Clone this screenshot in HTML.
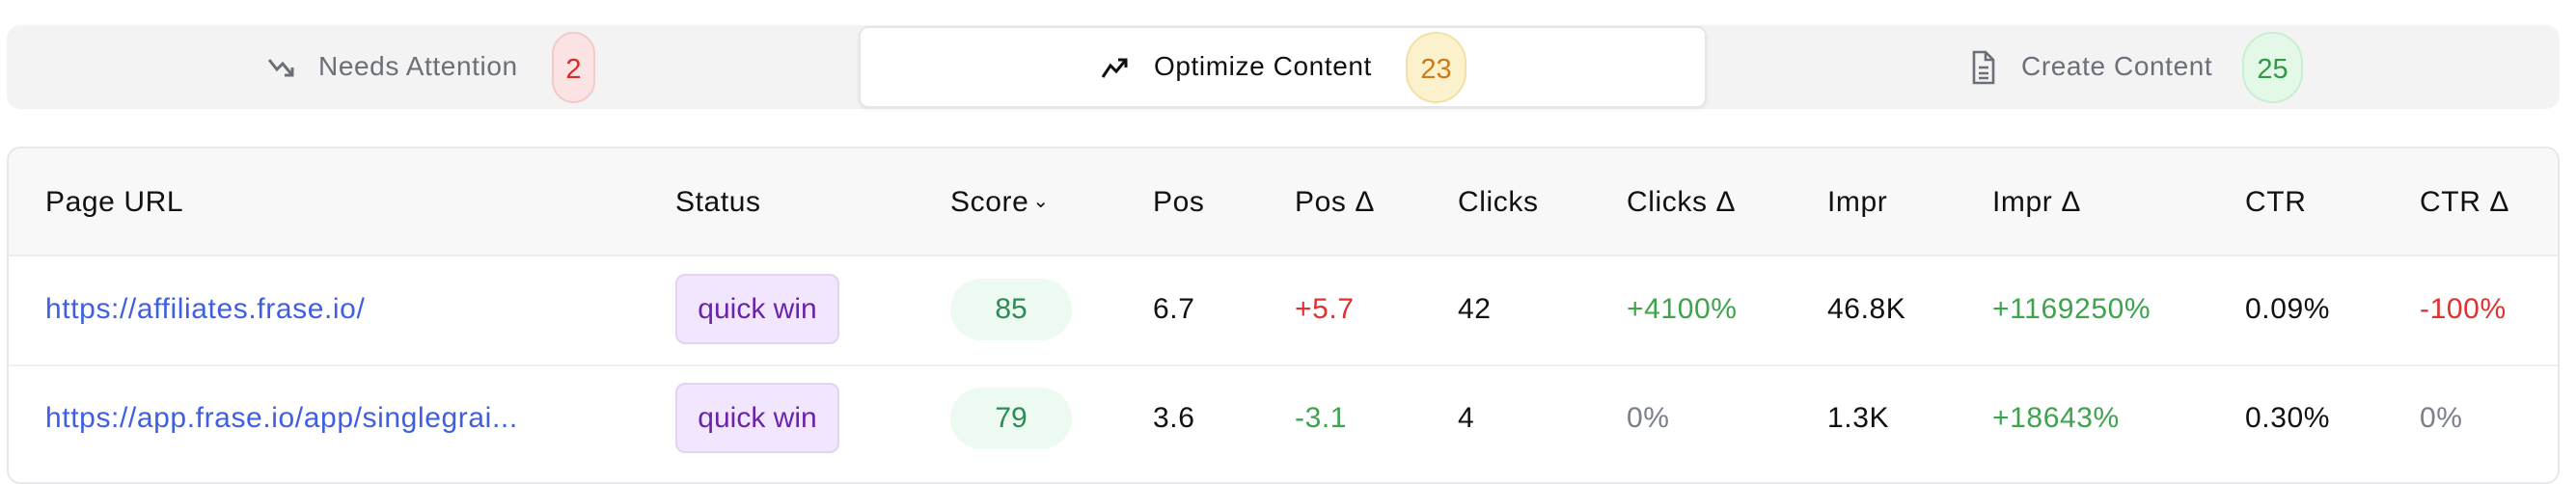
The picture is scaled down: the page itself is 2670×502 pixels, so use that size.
<!DOCTYPE html>
<html><head><meta charset="utf-8"><style>
*{margin:0;padding:0;box-sizing:border-box}
body{width:2670px;height:496px;background:#fff;font-family:"Liberation Sans",sans-serif;position:relative;overflow:hidden;color:#111}
.a{position:absolute;white-space:nowrap}
.bar{left:7px;top:26px;width:2646px;height:87px;background:#f3f3f3;border-radius:14px}
.act{left:890px;top:27px;width:879px;height:85px;background:#fff;border-radius:10px;border:2px solid #e6e6ea;box-shadow:0 2px 4px rgba(0,0,0,.06)}
.tt{font-size:28px;letter-spacing:0.6px;top:52px;line-height:34px}
.badge{top:33px;height:74px;border-radius:37px;font-size:29px;line-height:74px;text-align:center}
.tbl{left:7px;top:152px;width:2646px;height:350px;border:2px solid #e8e8ea;border-radius:14px;overflow:hidden}
.hd{position:absolute;left:0;top:0;width:100%;height:112px;background:#f8f8f8;border-bottom:2px solid #ececec}
.r1{position:absolute;left:0;top:112px;width:100%;height:114px;border-bottom:2px solid #efefef}
.h{font-size:30px;letter-spacing:0.6px;top:193px;line-height:34px;color:#111}
.c1{font-size:30px;letter-spacing:0.6px;top:304px;line-height:34px}
.c2{font-size:30px;letter-spacing:0.6px;top:417px;line-height:34px}
.blue{color:#3f5fe0}.g{color:#3fa34d}.r{color:#e03131}.gr{color:#7a7f8a}
.qw{left:700px;width:170px;height:73px;background:#f1e6fd;border:2px solid #e2d2f5;border-radius:10px;color:#6a24a8;font-size:30px;text-align:center;line-height:69px}
.sc{left:985px;width:126px;height:64px;background:#edfaf1;border-radius:32px;color:#2f8a58;font-size:30px;text-align:center;line-height:64px}
</style></head><body>
<div class="a bar"></div>
<div class="a act"></div>
<svg class="a" style="left:277px;top:58px" width="36" height="26" viewBox="0 0 36 26"><path d="M2 4 L10 14 L16 8 L26 20 M18 20 H26 V12" stroke="#6b6f78" stroke-width="3" fill="none"/></svg>
<div class="a tt" style="left:330px;color:#6b6f78">Needs Attention</div>
<div class="a badge" style="left:572px;width:45px;background:#fbe3e3;border:2px solid #f3caca;color:#d62c2c">2</div>
<svg class="a" style="left:1141px;top:58px" width="36" height="26" viewBox="0 0 36 26"><path d="M2 22 L10 10 L16 16 L26 4 M18 4 H26 V12" stroke="#111" stroke-width="3" fill="none"/></svg>
<div class="a tt" style="left:1196px;color:#111">Optimize Content</div>
<div class="a badge" style="left:1457px;width:63px;background:#fbf1cc;border:2px solid #f1e1a8;color:#cf7a18">23</div>
<svg class="a" style="left:2043px;top:50px" width="26" height="40" viewBox="0 0 26 40"><path d="M3 4 H15 L23 12 V36 H3 Z M15 4 V12 H23 M8 20 H18 M8 26 H18 M8 31 H18" stroke="#6b6f78" stroke-width="2.6" fill="none"/></svg>
<div class="a tt" style="left:2095px;color:#6b6f78">Create Content</div>
<div class="a badge" style="left:2324px;width:63px;background:#e3f8e7;border:2px solid #c8efd1;color:#2f9a45">25</div>
<div class="a tbl"><div class="hd"></div><div class="r1"></div></div>
<div class="a h" style="left:47px">Page URL</div>
<div class="a h" style="left:700px">Status</div>
<div class="a h" style="left:985px">Score<span style="font-size:20px;position:relative;top:-4px;margin-left:4px">&#8964;</span></div>
<div class="a h" style="left:1195px">Pos</div>
<div class="a h" style="left:1342px">Pos Δ</div>
<div class="a h" style="left:1511px">Clicks</div>
<div class="a h" style="left:1686px">Clicks Δ</div>
<div class="a h" style="left:1894px">Impr</div>
<div class="a h" style="left:2065px">Impr Δ</div>
<div class="a h" style="left:2327px">CTR</div>
<div class="a h" style="left:2508px">CTR Δ</div>
<div class="a c1 blue" style="left:47px">https://affiliates.frase.io/</div>
<div class="a qw" style="top:284px">quick win</div>
<div class="a sc" style="top:289px">85</div>
<div class="a c1" style="left:1195px">6.7</div>
<div class="a c1 r" style="left:1342px">+5.7</div>
<div class="a c1" style="left:1511px">42</div>
<div class="a c1 g" style="left:1686px">+4100%</div>
<div class="a c1" style="left:1894px">46.8K</div>
<div class="a c1 g" style="left:2065px">+1169250%</div>
<div class="a c1" style="left:2327px">0.09%</div>
<div class="a c1 r" style="left:2508px">-100%</div>
<div class="a c2 blue" style="left:47px">https://app.frase.io/app/singlegrai...</div>
<div class="a qw" style="top:397px">quick win</div>
<div class="a sc" style="top:402px">79</div>
<div class="a c2" style="left:1195px">3.6</div>
<div class="a c2 g" style="left:1342px">-3.1</div>
<div class="a c2" style="left:1511px">4</div>
<div class="a c2 gr" style="left:1686px">0%</div>
<div class="a c2" style="left:1894px">1.3K</div>
<div class="a c2 g" style="left:2065px">+18643%</div>
<div class="a c2" style="left:2327px">0.30%</div>
<div class="a c2 gr" style="left:2508px">0%</div>
</body></html>
